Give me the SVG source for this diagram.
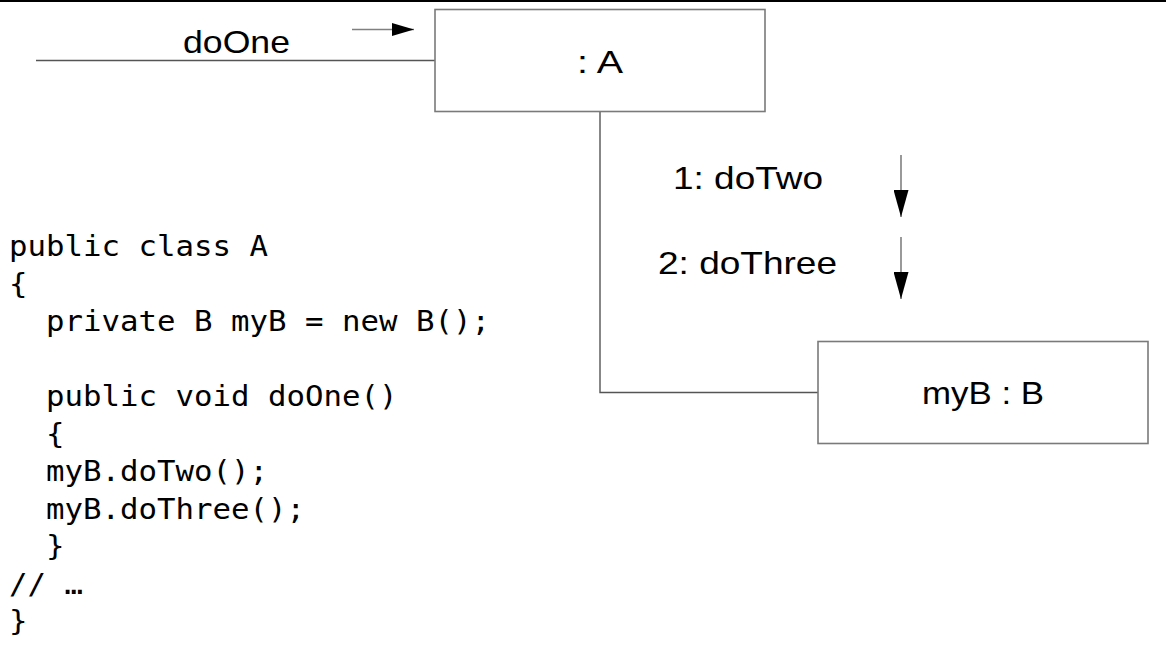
<svg xmlns="http://www.w3.org/2000/svg" width="1166" height="654" viewBox="0 0 1166 654">
  <style>
    .box { fill: #ffffff; stroke: #7a7a7a; stroke-width: 1.6; }
    .lbl { font-family: "Liberation Sans", Arial, sans-serif; font-size: 30.5px; fill: #000; }
    .code { font-family: "DejaVu Sans Mono", "Liberation Mono", monospace; font-size: 27.5px; fill: #000; white-space: pre; }
    .conn { fill: none; stroke: #555; stroke-width: 1.4; }
    .msg { fill: none; stroke: #808080; stroke-width: 1.6; }
  </style>
  <defs>
    <marker id="headR" viewBox="0 0 22 13" refX="22" refY="6.5" markerWidth="22" markerHeight="13" markerUnits="userSpaceOnUse" orient="auto">
      <path d="M0,0 L22,6.5 L0,13 Z" fill="#000"/>
    </marker>
    <marker id="headD" viewBox="0 0 27 15" refX="27" refY="7.5" markerWidth="27" markerHeight="15" markerUnits="userSpaceOnUse" orient="auto">
      <path d="M0,0 L27,7.5 L0,15 Z" fill="#000"/>
    </marker>
  </defs>
  <rect x="0" y="0" width="1166" height="654" fill="#ffffff"/>
  <rect x="0" y="0" width="1166" height="2" fill="#000"/>

  <g id="connectors">
    <line class="conn" x1="36" y1="60.5" x2="435" y2="60.5"/>
    <polyline class="conn" points="600,111 600,392.5 818,392.5"/>
    <line class="msg" x1="352" y1="29.5" x2="414" y2="29.5" stroke="#333" marker-end="url(#headR)"/>
    <line class="msg" x1="901" y1="155" x2="901" y2="217" marker-end="url(#headD)"/>
    <line class="msg" x1="901" y1="237" x2="901" y2="299" marker-end="url(#headD)"/>
    <text class="lbl" x="236.5" y="53" text-anchor="middle" textLength="107" lengthAdjust="spacingAndGlyphs">doOne</text>
    <text class="lbl" x="748" y="189" text-anchor="middle" textLength="150" lengthAdjust="spacingAndGlyphs">1: doTwo</text>
    <text class="lbl" x="747.5" y="274" text-anchor="middle" textLength="179" lengthAdjust="spacingAndGlyphs">2: doThree</text>
  </g>

  <g id="nodeA">
    <rect class="box" x="435" y="9.5" width="330" height="102"/>
    <text class="lbl" x="600" y="73" text-anchor="middle" textLength="46" lengthAdjust="spacingAndGlyphs">: A</text>
  </g>

  <g id="nodeB">
    <rect class="box" x="818" y="341.5" width="330" height="102"/>
    <text class="lbl" x="983" y="404" text-anchor="middle" textLength="122" lengthAdjust="spacingAndGlyphs">myB : B</text>
  </g>

  <g id="code">
    <text class="code" x="9" y="256" textLength="259" lengthAdjust="spacingAndGlyphs">public class A</text>
    <text class="code" x="9" y="293.5" textLength="18.5" lengthAdjust="spacingAndGlyphs">{</text>
    <text class="code" x="46" y="331" textLength="444" lengthAdjust="spacingAndGlyphs">private B myB = new B();</text>
    <text class="code" x="46" y="406" textLength="351.5" lengthAdjust="spacingAndGlyphs">public void doOne()</text>
    <text class="code" x="46" y="443.5" textLength="18.5" lengthAdjust="spacingAndGlyphs">{</text>
    <text class="code" x="46" y="481" textLength="222" lengthAdjust="spacingAndGlyphs">myB.doTwo();</text>
    <text class="code" x="46" y="518.5" textLength="259" lengthAdjust="spacingAndGlyphs">myB.doThree();</text>
    <text class="code" x="46" y="556" textLength="18.5" lengthAdjust="spacingAndGlyphs">}</text>
    <text class="code" x="9" y="593.5" textLength="74" lengthAdjust="spacingAndGlyphs">// …</text>
    <text class="code" x="9" y="631" textLength="18.5" lengthAdjust="spacingAndGlyphs">}</text>
  </g>
</svg>
